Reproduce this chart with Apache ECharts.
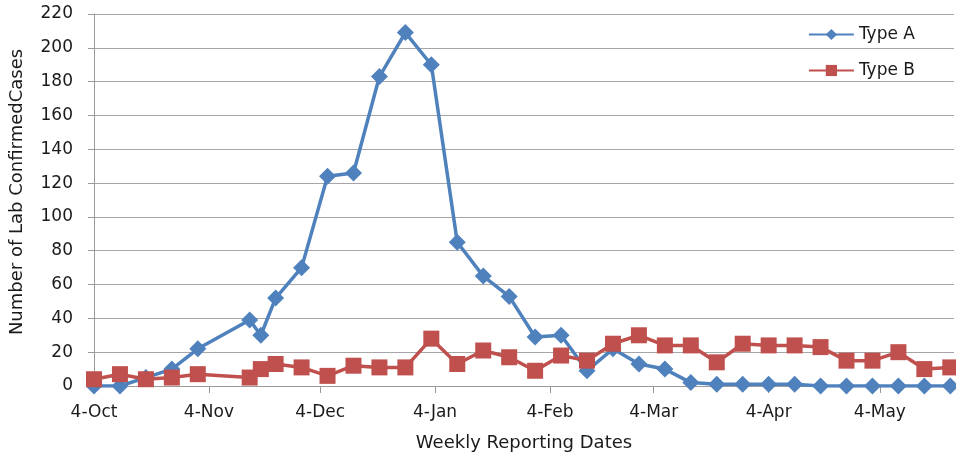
<!DOCTYPE html>
<html>
<head>
<meta charset="utf-8">
<title>Lab Confirmed Cases</title>
<script src="https://cdn.jsdelivr.net/npm/echarts@6/dist/echarts.min.js"></script>
<style>
  html, body {
    margin: 0;
    padding: 0;
    background: #fff;
  }
  #chart {
    width: 956px;
    height: 457px;
  }
</style>
</head>
<body>
<div id="chart"></div>
<script>
// weekly reporting dates
var reportDates = [
  "2010-10-04", "2010-10-11", "2010-10-18", "2010-10-25", "2010-11-01",
  "2010-11-15", "2010-11-18", "2010-11-22", "2010-11-29", "2010-12-06",
  "2010-12-13", "2010-12-20", "2010-12-27", "2011-01-03", "2011-01-10",
  "2011-01-17", "2011-01-24", "2011-01-31", "2011-02-07", "2011-02-14",
  "2011-02-21", "2011-02-28", "2011-03-07", "2011-03-14", "2011-03-21",
  "2011-03-28", "2011-04-04", "2011-04-11", "2011-04-18", "2011-04-25",
  "2011-05-02", "2011-05-09", "2011-05-16", "2011-05-23"
];
var typeA = [
  0, 0, 5, 10, 22, 39, 30, 52, 70, 124,
  126, 183, 209, 190, 85, 65, 53, 29, 30, 9,
  22, 13, 10, 2, 1, 1, 1, 1, 0, 0,
  0, 0, 0, 0
];
var typeB = [
  4, 7, 4, 5, 7, 5, 10, 13, 11, 6,
  12, 11, 11, 28, 13, 21, 17, 9, 18, 15,
  25, 30, 24, 24, 14, 25, 24, 24, 23, 15,
  15, 20, 10, 11
];
// x axis ticks sit on the 4th of each month
var tickDates = [
  "2010-10-04", "2010-11-04", "2010-12-04", "2011-01-04", "2011-02-04",
  "2011-03-04", "2011-04-04", "2011-05-04"
];
var startDate = "2010-10-04";
var endDate = "2011-05-24";
var monthNames = ["Jan", "Feb", "Mar", "Apr", "May", "Jun", "Jul", "Aug", "Sep", "Oct", "Nov", "Dec"];

var DAY = 24 * 3600 * 1000;
function toTime(s) {
  var p = s.split("-");
  return Date.UTC(+p[0], +p[1] - 1, +p[2]);
}
// x axis works in days since the first reporting date
function toDay(s) {
  return Math.round((toTime(s) - toTime(startDate)) / DAY);
}

var font = "'DejaVu Sans', sans-serif";
var textColor = "#1a1a1a";
var axisColor = "#9a9a9a";
var blue = "#4F81BD";
var red = "#C0504D";

var tickDays = tickDates.map(toDay);
var dataA = reportDates.map(function (d, i) { return [toDay(d), typeA[i]]; });
var dataB = reportDates.map(function (d, i) { return [toDay(d), typeB[i]]; });

var myChart = echarts.init(document.getElementById("chart"));

var option = {
  animation: false,
  grid: {
    left: 94,
    right: 2,
    top: 14,
    bottom: 71,
    outerBoundsMode: "none"
  },
  legend: {
    orient: "vertical",
    right: 36,
    top: 21,
    itemWidth: 45,
    itemHeight: 14,
    itemGap: 19,
    textStyle: {
      fontFamily: font,
      fontSize: 17,
      color: textColor
    },
    data: ["Type A", "Type B"]
  },
  xAxis: {
    type: "value",
    min: 0,
    max: toDay(endDate),
    name: "Weekly Reporting Dates",
    nameLocation: "middle",
    nameGap: 48,
    nameTextStyle: {
      fontFamily: font,
      fontSize: 18,
      color: textColor
    },
    axisLine: {
      lineStyle: { color: axisColor, width: 1 }
    },
    axisTick: {
      show: true,
      length: 7,
      customValues: tickDays,
      lineStyle: { color: axisColor }
    },
    axisLabel: {
      customValues: tickDays,
      margin: 18,
      fontFamily: font,
      fontSize: 17,
      color: textColor,
      formatter: function (v) {
        var d = new Date(toTime(startDate) + v * DAY);
        return d.getUTCDate() + "-" + monthNames[d.getUTCMonth()];
      }
    },
    splitLine: { show: false }
  },
  yAxis: {
    type: "value",
    min: 0,
    max: 220,
    interval: 20,
    name: "Number of Lab ConfirmedCases",
    nameLocation: "middle",
    nameGap: 68,
    nameTextStyle: {
      fontFamily: font,
      fontSize: 18,
      color: textColor,
      padding: [0, 0, 0, 16]
    },
    axisLine: {
      show: true,
      lineStyle: { color: axisColor, width: 1 }
    },
    axisTick: {
      show: true,
      length: 6,
      lineStyle: { color: axisColor }
    },
    axisLabel: {
      margin: 21,
      fontFamily: font,
      fontSize: 17,
      color: textColor
    },
    splitLine: {
      lineStyle: { color: "#a6a6a6", width: 1 }
    }
  },
  series: [
    {
      name: "Type A",
      type: "line",
      data: dataA,
      symbol: "diamond",
      symbolSize: 17,
      z: 3,
      itemStyle: { color: blue },
      lineStyle: { color: blue, width: 3.5 }
    },
    {
      name: "Type B",
      type: "line",
      data: dataB,
      symbol: "rect",
      symbolSize: 16,
      z: 4,
      itemStyle: { color: red },
      lineStyle: { color: red, width: 3.5 }
    }
  ]
};

myChart.setOption(option);
</script>
</body>
</html>
